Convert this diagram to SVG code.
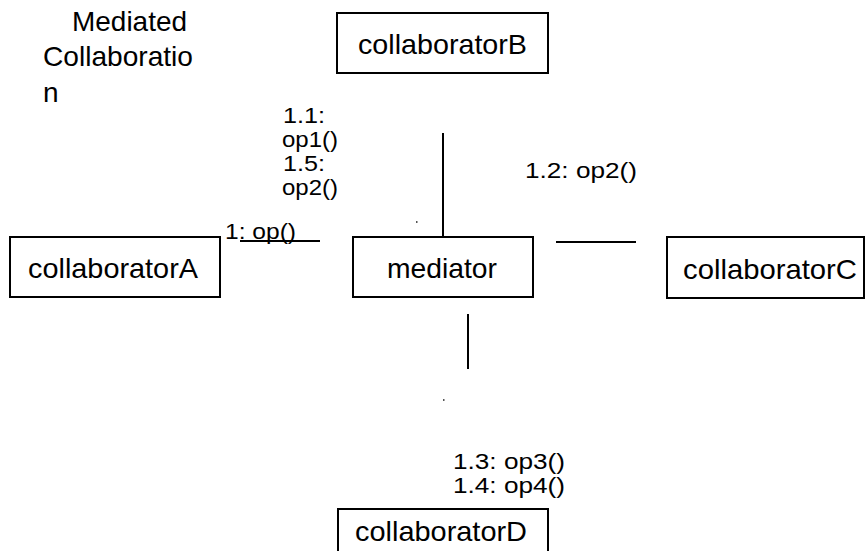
<svg xmlns="http://www.w3.org/2000/svg" width="866" height="551" viewBox="0 0 866 551">
  <style>
    .box { fill: #ffffff; stroke: #000000; stroke-width: 2; }
    .lbl { font-family: "Liberation Sans", Arial, sans-serif; font-size: 28px; fill: #000000; }
    .msg { font-family: "Liberation Sans", Arial, sans-serif; font-size: 22px; fill: #000000; }
    .link { stroke: #000000; stroke-width: 2; fill: none; }
  </style>
  <rect width="866" height="551" fill="#ffffff"/>

  <!-- title -->
  <g id="title">
    <text class="lbl" x="72" y="31" textLength="115" lengthAdjust="spacingAndGlyphs">Mediated</text>
    <text class="lbl" x="43" y="66" textLength="150" lengthAdjust="spacingAndGlyphs">Collaboratio</text>
    <text class="lbl" x="43" y="102">n</text>
  </g>

  <!-- objects -->
  <g id="collaboratorA">
    <rect class="box" x="10" y="237" width="210" height="60"/>
    <text class="lbl" x="28" y="278" textLength="170" lengthAdjust="spacingAndGlyphs">collaboratorA</text>
  </g>
  <g id="collaboratorB">
    <rect class="box" x="337" y="13" width="211" height="60"/>
    <text class="lbl" x="358" y="54" textLength="169" lengthAdjust="spacingAndGlyphs">collaboratorB</text>
  </g>
  <g id="mediator">
    <rect class="box" x="353" y="237" width="180" height="60"/>
    <text class="lbl" x="387" y="278" textLength="110" lengthAdjust="spacingAndGlyphs">mediator</text>
  </g>
  <g id="collaboratorC">
    <rect class="box" x="667" y="237" width="197" height="61"/>
    <text class="lbl" x="683" y="279" textLength="174" lengthAdjust="spacingAndGlyphs">collaboratorC</text>
  </g>
  <g id="collaboratorD">
    <rect class="box" x="338" y="509" width="210" height="60"/>
    <text class="lbl" x="355" y="541" textLength="172" lengthAdjust="spacingAndGlyphs">collaboratorD</text>
  </g>

  <!-- links -->
  <g id="connectors">
    <line class="link" x1="240" y1="241" x2="320" y2="241"/>
    <line class="link" x1="443" y1="133" x2="443" y2="237"/>
    <line class="link" x1="556" y1="242" x2="636" y2="242"/>
    <line class="link" x1="468" y1="314" x2="468" y2="369"/>
    <rect x="416" y="221" width="1.5" height="2" fill="#555555"/>
    <rect x="443" y="399" width="1.5" height="2" fill="#555555"/>
  </g>

  <!-- messages -->
  <g id="messages">
    <text class="msg" x="283" y="123" textLength="42" lengthAdjust="spacingAndGlyphs">1.1:</text>
    <text class="msg" x="282" y="147" textLength="56" lengthAdjust="spacingAndGlyphs">op1()</text>
    <text class="msg" x="283" y="171" textLength="42" lengthAdjust="spacingAndGlyphs">1.5:</text>
    <text class="msg" x="282" y="195" textLength="56" lengthAdjust="spacingAndGlyphs">op2()</text>
    <text class="msg" x="225" y="239" textLength="71" lengthAdjust="spacingAndGlyphs">1: op()</text>
    <text class="msg" x="525" y="178" textLength="112" lengthAdjust="spacingAndGlyphs">1.2: op2()</text>
    <text class="msg" x="453" y="469" textLength="112" lengthAdjust="spacingAndGlyphs">1.3: op3()</text>
    <text class="msg" x="453" y="493" textLength="112" lengthAdjust="spacingAndGlyphs">1.4: op4()</text>
  </g>
</svg>
